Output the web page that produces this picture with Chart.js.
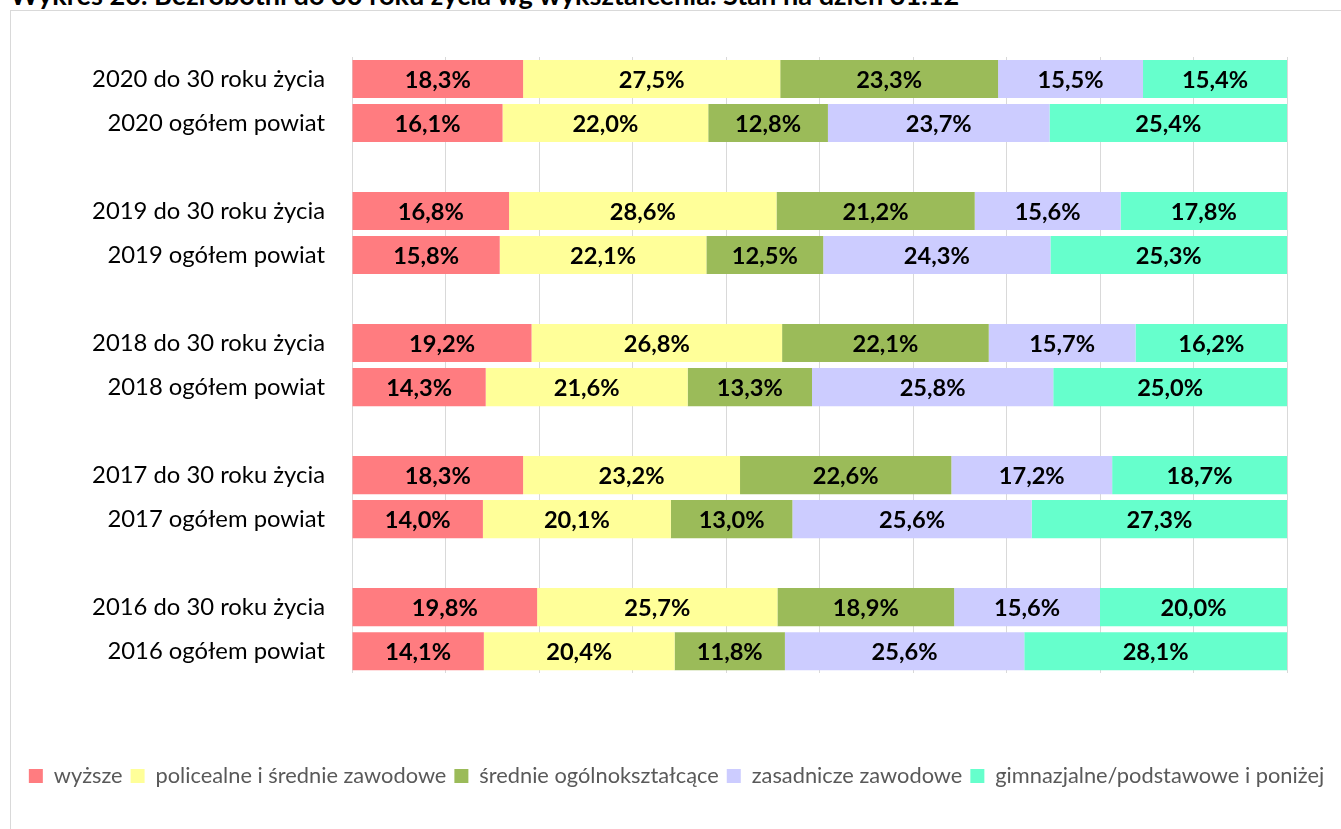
<!DOCTYPE html>
<html><head><meta charset="utf-8">
<script src="https://cdn.jsdelivr.net/npm/chart.js@4.4.1/dist/chart.umd.min.js"></script>
<style>
html,body{margin:0;padding:0;background:#fff;overflow:hidden;width:1341px;height:829px;}
#frame{position:absolute;left:10px;top:10px;width:1400px;height:900px;border:1px solid #d9d9d9;box-sizing:border-box;}
#title{position:absolute;left:10px;top:-12px;white-space:nowrap;font-weight:bold;color:#000;line-height:1;font-family:Lato,sans-serif;}
#wrap{position:absolute;left:0;top:0;width:1341px;height:829px;}
</style></head><body>
<div id="frame"></div>
<div id="title">Wykres 20. Bezrobotni do 30 roku życia wg wykształcenia. Stan na dzień 31.12</div>
<div id="wrap"><canvas id="c" width="1341" height="829"></canvas></div>
<script>
const categories = [
  '2020 do 30 roku życia', '2020 ogółem powiat', '',
  '2019 do 30 roku życia', '2019 ogółem powiat', '',
  '2018 do 30 roku życia', '2018 ogółem powiat', '',
  '2017 do 30 roku życia', '2017 ogółem powiat', '',
  '2016 do 30 roku życia', '2016 ogółem powiat'
];
const seriesNames = ['wyższe', 'policealne i średnie zawodowe', 'średnie ogólnokształcące', 'zasadnicze zawodowe', 'gimnazjalne/podstawowe i poniżej'];
const wyzsze      = [18.3, 16.1, null, 16.8, 15.8, null, 19.2, 14.3, null, 18.3, 14.0, null, 19.8, 14.1];
const policealne  = [27.5, 22.0, null, 28.6, 22.1, null, 26.8, 21.6, null, 23.2, 20.1, null, 25.7, 20.4];
const ogolne      = [23.3, 12.8, null, 21.2, 12.5, null, 22.1, 13.3, null, 22.6, 13.0, null, 18.9, 11.8];
const zasadnicze  = [15.5, 23.7, null, 15.6, 24.3, null, 15.7, 25.8, null, 17.2, 25.6, null, 15.6, 25.6];
const gimnazjalne = [15.4, 25.4, null, 17.8, 25.3, null, 16.2, 25.0, null, 18.7, 27.3, null, 20.0, 28.1];
const xTicks = [0, 10, 20, 30, 40, 50, 60, 70, 80, 90, 100];

const colors = ['#FF7C80', '#FFFF99', '#9BBB59', '#CCCCFF', '#66FFCC'];
const seriesValues = [wyzsze, policealne, ogolne, zasadnicze, gimnazjalne];

const FAMILY = 'Lato, "Open Sans", sans-serif';
const mctx = document.createElement('canvas').getContext('2d');
function fit(text, weight, target) {
  mctx.font = weight + ' 100px ' + FAMILY;
  return 100 * target / mctx.measureText(text).width;
}
const tickSize = fit('2020 do 30 roku życia', 'normal', 233);
const valSize = fit('18,3%', 'bold', 66);
const legSize = fit('policealne i średnie zawodowe', 'normal', 291);
const titleSize = fit('Wykres 20. Bezrobotni do 30 roku życia wg wykształcenia. Stan na dzień 31.12', 'bold', 951);
const t = document.getElementById('title');
t.style.fontSize = titleSize + 'px';
t.style.top = (5 - 0.887 * titleSize) + 'px';

const valueLabels = {
  id: 'valueLabels',
  afterDatasetsDraw(chart) {
    const ctx = chart.ctx;
    ctx.save();
    ctx.font = 'bold ' + valSize + 'px ' + FAMILY;
    ctx.fillStyle = '#000';
    ctx.textAlign = 'center';
    ctx.textBaseline = 'middle';
    chart.data.datasets.forEach((ds, i) => {
      const meta = chart.getDatasetMeta(i);
      meta.data.forEach((bar, j) => {
        const v = ds.data[j];
        if (v == null) return;
        const p = bar.getCenterPoint();
        ctx.fillText(v.toFixed(1).replace('.', ',') + '%', p.x, p.y + 1);
      });
    });
    ctx.restore();
  }
};

new Chart(document.getElementById('c'), {
  type: 'bar',
  data: {
    labels: categories,
    datasets: seriesNames.map((n, i) => ({
      label: n,
      data: seriesValues[i],
      backgroundColor: colors[i],
      borderWidth: 0,
      barPercentage: 0.865,
      categoryPercentage: 1
    }))
  },
  options: {
    indexAxis: 'y',
    responsive: false,
    animation: false,
    layout: { padding: { left: 12, right: 0, top: 57, bottom: 32 } },
    plugins: {
      legend: {
        position: 'bottom',
        labels: {
          boxWidth: 14, boxHeight: 14, padding: 8,
          color: '#595959',
          font: { family: FAMILY, size: legSize }
        }
      },
      tooltip: { enabled: false }
    },
    scales: {
      x: {
        stacked: true, min: 0, max: 100,
        afterBuildTicks(s) { s.ticks = xTicks.map(v => ({ value: v })); },
        ticks: { display: false },
        grid: { color: '#d9d9d9', lineWidth: 1, drawTicks: false },
        border: { display: false },
        afterFit(s) { s.height = 84; }
      },
      y: {
        stacked: true,
        ticks: { color: '#000', autoSkip: false, padding: 27, font: { family: FAMILY, size: tickSize } },
        grid: { display: false, drawTicks: false },
        border: { display: false },
        afterFit(s) { s.width = 340; }
      },
      yR: {
        position: 'right', type: 'linear', display: true,
        ticks: { display: false },
        grid: { display: false, drawTicks: false },
        border: { display: false },
        afterFit(s) { s.width = 54; }
      }
    }
  },
  plugins: [valueLabels]
});
</script>
</body></html>
